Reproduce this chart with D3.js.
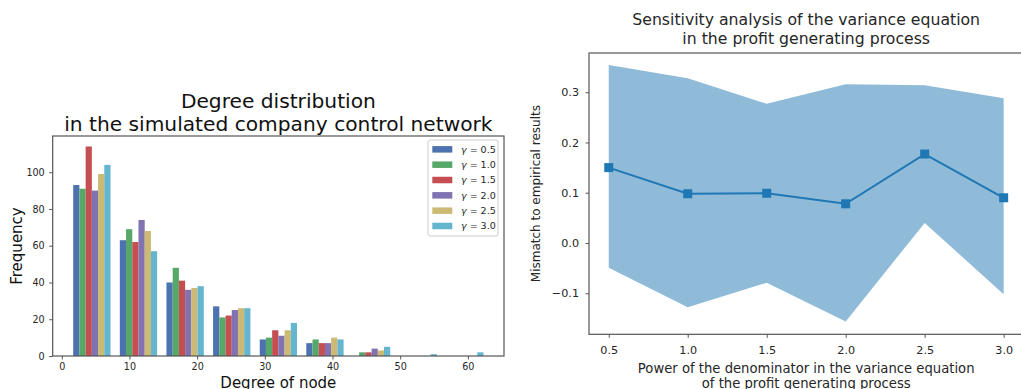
<!DOCTYPE html>
<html><head><meta charset="utf-8">
<script src="https://cdn.jsdelivr.net/npm/d3@7"></script>
<style>
body{margin:0;background:#fff;}
svg{display:block;font-family:"DejaVu Sans",sans-serif;}
</style></head>
<body><svg id="c" width="1021" height="389"></svg>
<script>
// ---- Left chart data: histogram of node degree ----
const binEdges = [1, 7.89, 14.78, 21.67, 28.56, 35.44, 42.33, 49.22, 56.11, 63];
const gammaLabels = ["0.5", "1.0", "1.5", "2.0", "2.5", "3.0"];
const counts_g05 = [93, 63, 40, 27, 9, 7, 0, 0, 0];
const counts_g10 = [91, 69, 48, 21, 10, 9, 2, 0, 0];
const counts_g15 = [114, 62, 41, 22, 14, 7, 2, 0, 0];
const counts_g20 = [90, 74, 36, 25, 11, 7, 4, 0, 0];
const counts_g25 = [99, 68, 37, 26, 14, 10, 3, 0, 0];
const counts_g30 = [104, 57, 38, 26, 18, 9, 5, 1, 2];
const histColors = ["#4C72B0", "#55A868", "#C44E52", "#8172B2", "#CCB974", "#64B5CD"];
const leftXTicks = [0, 10, 20, 30, 40, 50, 60];
const leftYTicks = [0, 20, 40, 60, 80, 100];

// ---- Right chart data: sensitivity analysis ----
const powers = [0.5, 1.0, 1.5, 2.0, 2.5, 3.0];
const mismatchMean = [0.150, 0.098, 0.099, 0.078, 0.177, 0.090];
const mismatchUpper = [0.354, 0.328, 0.277, 0.316, 0.314, 0.288];
const mismatchLower = [-0.049, -0.128, -0.079, -0.156, 0.040, -0.102];
const rightXTicks = [0.5, 1.0, 1.5, 2.0, 2.5, 3.0];
const rightYTicks = [-0.1, 0.0, 0.1, 0.2, 0.3];

const svg = d3.select("#c");
const series = [counts_g05, counts_g10, counts_g15, counts_g20, counts_g25, counts_g30];
const textCol = "#262626";
const spineCol = "#555";

// ================= LEFT =================
{
  const L = {l: 52.7, r: 504, t: 136, b: 356};
  const x = d3.scaleLinear().domain([-1.34, 65.34]).range([L.l, L.r]);
  const y = d3.scaleLinear().domain([0, 119.7]).range([L.b, L.t]);
  const g = svg.append("g");
  const n = series.length;
  series.forEach((vals, si) => {
    g.selectAll(null).data(vals.map((v, i) => ({v, i}))).enter().append("rect")
      .attr("x", d => {
        const w = binEdges[d.i + 1] - binEdges[d.i];
        return x(binEdges[d.i] + 0.1 * w + si * 0.8 * w / n);
      })
      .attr("width", d => {
        const w = binEdges[d.i + 1] - binEdges[d.i];
        return x(0.8 * w / n) - x(0);
      })
      .attr("y", d => y(d.v))
      .attr("height", d => y(0) - y(d.v))
      .attr("fill", histColors[si]);
  });
  g.append("rect").attr("x", L.l).attr("y", L.t).attr("width", L.r - L.l).attr("height", L.b - L.t)
    .attr("fill", "none").attr("stroke", spineCol).attr("stroke-width", 1.2);
  const xa = g.append("g").attr("transform", `translate(0,${L.b})`)
    .call(d3.axisBottom(x).tickValues(leftXTicks).tickSize(3.5).tickPadding(4).tickFormat(d3.format("d")));
  const ya = g.append("g").attr("transform", `translate(${L.l},0)`)
    .call(d3.axisLeft(y).tickValues(leftYTicks).tickSize(3.5).tickPadding(4.5).tickFormat(d3.format("d")));
  [xa, ya].forEach(a => {
    a.select(".domain").remove();
    a.selectAll("line").attr("stroke", spineCol);
    a.selectAll("text").attr("font-family", "DejaVu Sans").attr("font-size", 9.6).attr("fill", textCol);
  });
  const cx = (L.l + L.r) / 2;
  g.append("text").attr("x", cx).attr("y", 108).attr("text-anchor", "middle").attr("font-size", 20.2).attr("fill", "#111").text("Degree distribution");
  g.append("text").attr("x", cx).attr("y", 130.5).attr("text-anchor", "middle").attr("font-size", 20.2).attr("fill", "#111").text("in the simulated company control network");
  g.append("text").attr("x", cx).attr("y", 388).attr("text-anchor", "middle").attr("font-size", 15).attr("fill", "#111").text("Degree of node");
  g.append("text").attr("transform", `translate(21.5,${(L.t + L.b) / 2}) rotate(-90)`).attr("text-anchor", "middle").attr("font-size", 15).attr("fill", "#111").text("Frequency");
  // legend
  const lg = g.append("g");
  lg.append("rect").attr("x", 428).attr("y", 140).attr("width", 70).attr("height", 96).attr("rx", 2)
    .attr("fill", "#fff").attr("fill-opacity", 0.8).attr("stroke", "#ccc").attr("stroke-width", 1);
  gammaLabels.forEach((lab, i) => {
    const yy = 149.3 + i * 15.33;
    lg.append("rect").attr("x", 432.3).attr("y", yy - 3.2).attr("width", 20).attr("height", 6.5).attr("fill", histColors[i]);
    const t = lg.append("text").attr("x", 461).attr("y", yy + 3.3).attr("font-size", 9.5).attr("fill", textCol);
    t.append("tspan").attr("font-style", "italic").text("γ");
    t.append("tspan").text(" = " + lab);
  });
}

// ================= RIGHT =================
{
  const R = {l: 589, r: 1023.4, t: 53, b: 334.3};
  const x = d3.scaleLinear().domain([0.375, 3.125]).range([R.l, R.r]);
  const y = d3.scaleLinear().domain([-0.1816, 0.378]).range([R.b, R.t]);
  const g = svg.append("g");
  const area = d3.area().x((d, i) => x(powers[i])).y0((d, i) => y(mismatchLower[i])).y1((d, i) => y(mismatchUpper[i]));
  g.append("path").datum(powers).attr("d", area).attr("fill", "#1f77b4").attr("fill-opacity", 0.5);
  const line = d3.line().x((d, i) => x(powers[i])).y(d => y(d));
  g.append("path").datum(mismatchMean).attr("d", line).attr("fill", "none").attr("stroke", "#1f77b4").attr("stroke-width", 2);
  g.selectAll(null).data(mismatchMean).enter().append("rect")
    .attr("x", (d, i) => x(powers[i]) - 4.5).attr("y", d => y(d) - 4.5)
    .attr("width", 9).attr("height", 9).attr("fill", "#1f77b4");
  g.append("rect").attr("x", R.l).attr("y", R.t).attr("width", R.r - R.l).attr("height", R.b - R.t)
    .attr("fill", "none").attr("stroke", spineCol).attr("stroke-width", 1.2);
  const fmt = v => (v < 0 ? "\u2212" : "") + Math.abs(v).toFixed(1);
  const xa = g.append("g").attr("transform", `translate(0,${R.b})`)
    .call(d3.axisBottom(x).tickValues(rightXTicks).tickSize(3.5).tickPadding(8.5).tickFormat(fmt));
  const ya = g.append("g").attr("transform", `translate(${R.l},0)`)
    .call(d3.axisLeft(y).tickValues(rightYTicks).tickSize(3.5).tickPadding(6.5).tickFormat(fmt));
  [xa, ya].forEach(a => {
    a.select(".domain").remove();
    a.selectAll("line").attr("stroke", spineCol);
    a.selectAll("text").attr("font-family", "DejaVu Sans").attr("font-size", 11.2).attr("fill", textCol);
  });
  const cx = (R.l + R.r) / 2;
  g.append("text").attr("x", cx).attr("y", 25).attr("text-anchor", "middle").attr("font-size", 15.7).attr("fill", textCol).text("Sensitivity analysis of the variance equation");
  g.append("text").attr("x", cx).attr("y", 43.5).attr("text-anchor", "middle").attr("font-size", 15.7).attr("fill", textCol).text("in the profit generating process");
  g.append("text").attr("x", cx).attr("y", 373.3).attr("text-anchor", "middle").attr("font-size", 13.2).attr("fill", textCol).text("Power of the denominator in the variance equation");
  g.append("text").attr("x", cx).attr("y", 387.5).attr("text-anchor", "middle").attr("font-size", 13.2).attr("fill", textCol).text("of the profit generating process");
  g.append("text").attr("transform", `translate(539.5,${(R.t + R.b) / 2}) rotate(-90)`).attr("text-anchor", "middle").attr("font-size", 12).attr("fill", textCol).text("Mismatch to empirical results");
}
</script></body></html>
